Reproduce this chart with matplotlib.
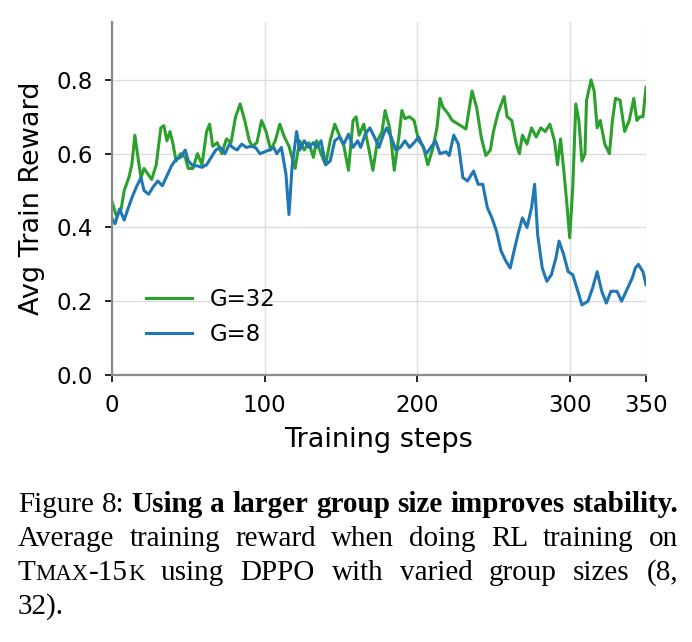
import matplotlib; matplotlib.use("Agg")
import matplotlib.pyplot as plt
from matplotlib.transforms import IdentityTransform

# values
g32_steps = [0,3,6,8,11,13,15,17,19,21,26,29,32,34,36,38,40,42,45,48,50,53,56,59,62,64,66,69,72,75,
             78,81,84,87,90,92,95,98,101,104,107,110,113,116,118,120,123,126,129,132,134,137,140,143,146,149,152,155,158,160,
             162,165,168,171,174,177,179,182,185,188,190,192,195,198,201,204,207,210,213,215,217,220,223,227,232,236,239,242,245,248,
             250,253,257,259,262,265,267,269,272,275,278,281,284,287,290,292,294,296,298,300,302,304,306,308,310,311,314,316,318,320,
             323,326,328,330,333,336,339,342,344,346,348,350]
g32_reward = [0.47,0.43,0.45,0.50,0.535,0.57,0.65,0.59,0.535,0.56,0.53,0.57,0.67,0.676,0.635,0.66,0.626,0.58,0.60,0.59,
              0.56,0.56,0.60,0.57,0.66,0.68,0.62,0.63,0.60,0.64,0.63,0.70,0.735,0.69,0.635,0.62,0.63,0.69,0.66,0.61,
              0.635,0.68,0.645,0.62,0.59,0.56,0.635,0.61,0.63,0.59,0.635,0.60,0.57,0.635,0.68,0.65,0.62,0.555,0.69,0.70,
              0.65,0.68,0.62,0.555,0.635,0.66,0.717,0.67,0.555,0.645,0.717,0.695,0.70,0.69,0.635,0.62,0.57,0.61,0.67,0.75,
              0.725,0.71,0.69,0.68,0.667,0.77,0.725,0.645,0.595,0.61,0.66,0.71,0.755,0.70,0.69,0.626,0.60,0.65,0.626,0.67,
              0.645,0.67,0.66,0.68,0.635,0.57,0.64,0.56,0.47,0.372,0.51,0.735,0.69,0.58,0.60,0.744,0.80,0.77,0.67,0.69,
              0.626,0.60,0.69,0.75,0.745,0.66,0.69,0.75,0.69,0.70,0.70,0.78]
g8_steps = [0,2,5,8,10,13,16,19,21,24,27,30,33,36,39,42,45,48,50,53,56,59,62,65,68,71,74,77,79,82,
            85,88,91,94,97,100,103,106,108,111,114,116,118,121,123,126,129,132,134,137,140,143,146,149,152,155,158,161,163,166,
            169,172,175,178,180,183,186,189,192,195,198,201,204,206,209,212,215,219,221,224,227,230,233,237,240,243,246,249,252,255,
            258,261,263,266,269,272,275,277,279,282,285,288,291,293,296,299,302,304,306,308,312,315,318,321,324,327,331,334,337,341,
            343,345,348,350]
g8_reward = [0.425,0.41,0.45,0.42,0.445,0.48,0.51,0.535,0.50,0.49,0.51,0.526,0.513,0.54,0.567,0.585,0.59,0.61,0.58,0.567,
             0.567,0.563,0.57,0.59,0.61,0.617,0.60,0.626,0.617,0.61,0.626,0.617,0.62,0.617,0.60,0.605,0.61,0.617,0.60,0.617,
             0.545,0.435,0.563,0.66,0.61,0.635,0.617,0.63,0.617,0.635,0.57,0.58,0.635,0.645,0.626,0.653,0.617,0.635,0.617,0.653,
             0.67,0.645,0.617,0.653,0.67,0.645,0.61,0.617,0.635,0.617,0.63,0.645,0.617,0.60,0.617,0.635,0.60,0.605,0.595,0.65,
             0.626,0.535,0.526,0.553,0.517,0.517,0.454,0.426,0.39,0.336,0.31,0.29,0.327,0.38,0.426,0.40,0.454,0.517,0.38,0.29,
             0.254,0.272,0.318,0.363,0.327,0.28,0.272,0.245,0.218,0.19,0.20,0.236,0.28,0.227,0.195,0.227,0.227,0.20,0.227,0.263,
             0.29,0.30,0.28,0.245]
x_ticks = [0, 100, 200, 300, 350]
y_ticks = [0.0, 0.2, 0.4, 0.6, 0.8]

W, H = 692, 642
fig = plt.figure(figsize=(W/100, H/100), dpi=100)
ax = fig.add_axes([112/W, 1-375/H, 534/W, 353/H])
ax.plot(g32_steps, g32_reward, color="#2ca02c", lw=2.2, label="G=32")
ax.plot(g8_steps, g8_reward, color="#1f77b4", lw=2.2, label="G=8")
ax.set_xlim(0, 350); ax.set_ylim(0, 0.957)
ax.set_xticks(x_ticks); ax.set_yticks(y_ticks)
ax.grid(True, color="#dcdcdc", lw=1.0)
ax.set_axisbelow(True)
for s in ["top", "right"]:
    ax.spines[s].set_visible(False)
for s in ["left", "bottom"]:
    ax.spines[s].set_color("#8a8a8a"); ax.spines[s].set_linewidth(1.6)
ax.tick_params(labelsize=16.5, length=5, width=1.2, colors="black", pad=9)
ax.set_xlabel("Training steps", fontsize=19.5, labelpad=7)
ax.set_ylabel("Avg Train Reward", fontsize=19.5, labelpad=8)
ax.legend(loc="lower left", frameon=False, fontsize=16.5, bbox_to_anchor=(0.025, 0.024),
          handlelength=2.0, labelspacing=0.5)

# caption, justified like the paper
serif = "Liberation Serif"; cs = 21
r = fig.canvas.get_renderer()
def plain(s, w="normal"):
    return [[(t, w, 1.0)] for t in s.split()]
lines = [
    plain("Figure 8:") + plain("Using a larger group size improves stability.", "bold"),
    plain("Average training reward when doing RL training on"),
    [[("T", "normal", 1.0), ("MAX", "normal", 0.78), ("-15", "normal", 1.0), ("K", "normal", 0.78)]]
        + plain("using DPPO with varied group sizes (8,"),
    plain("32)."),
]
base_y = [512, 546, 580, 614]
x0, x1 = 18, 678

def seg_w(txt, w, sc):
    t = fig.text(0, 0, txt, fontsize=cs*sc, fontweight=w, family=serif)
    bw = t.get_window_extent(r).width
    t.remove()
    return bw

space = seg_w("a a", "normal", 1) - 2*seg_w("a", "normal", 1)
for li, words in enumerate(lines):
    widths = [[seg_w(*sg) for sg in wd] for wd in words]
    tot = sum(sum(w) for w in widths)
    gap = (x1 - x0 - tot)/(len(words) - 1) if li < 3 else space
    x = x0
    for wd, ws in zip(words, widths):
        for (txt, w, sc), sw in zip(wd, ws):
            fig.text(x, H - base_y[li], txt, fontsize=cs*sc, fontweight=w, family=serif,
                     va="baseline", ha="left", transform=IdentityTransform())
            x += sw
        x += gap

fig.savefig("out.png", dpi=100)
